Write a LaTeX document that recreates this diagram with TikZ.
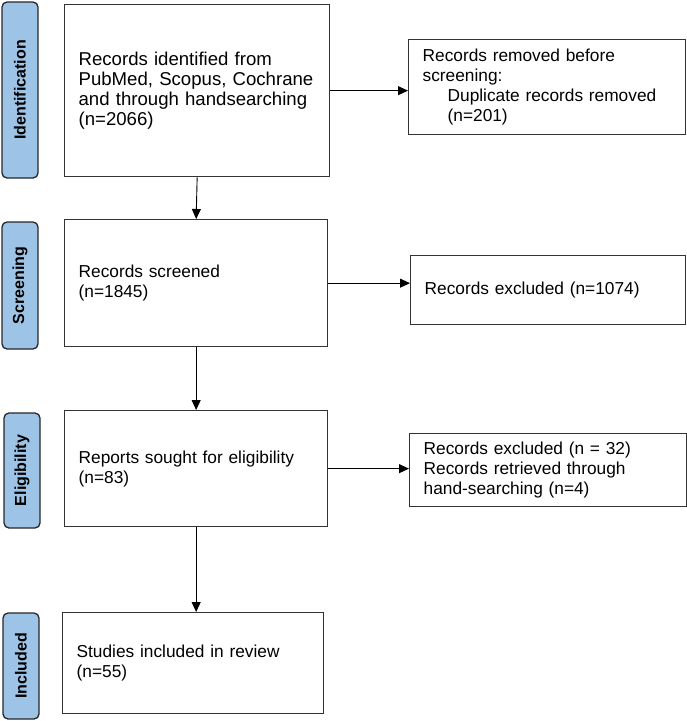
\documentclass[tikz,border=0pt]{standalone}
\usepackage{fontspec}
\setmainfont{Liberation Sans}
\usepackage{tikz}
\usetikzlibrary{arrows.meta,positioning}

\definecolor{stageblue}{RGB}{157,195,230}

\begin{document}
\begin{tikzpicture}[
    x=1pt, y=-1pt,
    box/.style={draw=black!80, line width=1.3pt, anchor=north west, align=left,
        inner xsep=14pt, inner ysep=0pt, font=\fontsize{17.3}{20}\selectfont},
    stage/.style={draw=black!85, line width=1.3pt, fill=stageblue, rounded corners=5pt,
        rotate=90, minimum height=36pt, inner sep=0pt, font=\fontsize{16}{18}\selectfont\bfseries},
    flow/.style={-{Triangle[length=10pt,width=9pt]}, line width=0.9pt, black}
]
    \useasboundingbox (0,0) rectangle (687,721);

    % Stage labels
    \node[stage, minimum width=176pt] (sid) at (20,90) {Identification};
    \node[stage, minimum width=127pt] (sscr) at (20,285.5) {Screening};
    \node[stage, minimum width=115pt] (selig) at (22,470.5) {Eligibility};
    \node[stage, minimum width=106pt] (sinc) at (21,666) {Included};

    % Main column
    \node[box, minimum width=265pt, minimum height=172pt, text width=237pt,
        font=\fontsize{18.6}{19.8}\selectfont] (ident) at (64,4)
        {Records identified from\\PubMed, Scopus, Cochrane\\and through handsearching\\(n=2066)};
    \node[box, minimum width=263pt, minimum height=127pt, text width=235pt] (screen) at (64,219)
        {Records screened\\(n=1845)};
    \node[box, minimum width=263pt, minimum height=116pt, text width=235pt] (elig) at (64,410)
        {Reports sought for eligibility\\(n=83)};
    \node[box, minimum width=261pt, minimum height=101pt, text width=233pt] (incl) at (62,612)
        {Studies included in review\\(n=55)};

    % Side column
    \node[box, minimum width=277pt, minimum height=95pt, text width=249pt] (removed) at (408,39)
        {Records removed before\\screening:\\\hspace*{25pt}\mbox{Duplicate records removed}\\\hspace*{25pt}(n=201)};
    \node[box, minimum width=275pt, minimum height=69pt, text width=247pt] (excl) at (410,255)
        {Records excluded (n=1074)};
    \node[box, minimum width=277pt, minimum height=73pt, text width=249pt] (excl2) at (409,433)
        {Records excluded (n = 32)\\Records retrieved through\\hand-searching (n=4)};

    % Arrows down
    \draw[flow] (ident.south) -- (screen.north);
    \draw[flow] (screen.south) -- (elig.north);
    \draw[flow] (elig.south) -- (elig.south |- incl.north);

    % Arrows right
    \draw[flow] (ident.east) -- (ident.east -| removed.west);
    \draw[flow] (screen.east) -- (screen.east -| excl.west);
    \draw[flow] (elig.east) -- (elig.east -| excl2.west);
\end{tikzpicture}
\end{document}
